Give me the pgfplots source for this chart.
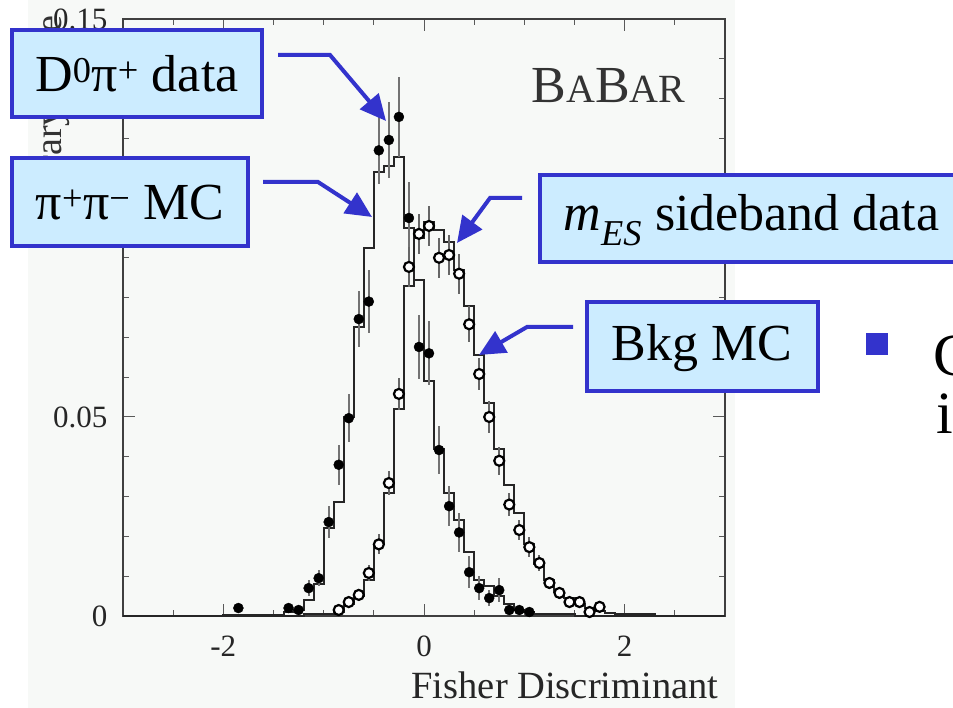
\documentclass[border=0pt]{standalone}
\usepackage{fontspec}
\setmainfont{Liberation Serif}
\usepackage{pgfplots}
\pgfplotsset{compat=1.18}
\usetikzlibrary{arrows.meta}
\definecolor{slideblue}{RGB}{51,51,204}
\definecolor{boxfill}{RGB}{204,236,255}
\definecolor{plotbg}{RGB}{247,249,247}

% signal MC (pi+pi-) histogram: left bin edge, content
\pgfplotstableread{
x y
-3.0 0
-2.0 0.0003
-1.4 0.001
-1.3 0.0015
-1.2 0.004
-1.1 0.008
-1.0 0.022
-0.9 0.0286
-0.8 0.050
-0.7 0.0726
-0.6 0.0925
-0.5 0.1116
-0.4 0.113
-0.3 0.1153
-0.2 0.0975
-0.1 0.0844
0.0 0.059
0.1 0.042
0.2 0.031
0.3 0.024
0.4 0.016
0.5 0.009
0.6 0.0075
0.7 0.005
0.8 0.003
0.9 0.0015
1.0 0.001
1.1 0.0005
1.5 0
3.0 0
}\sigmc

% background MC histogram: left bin edge, content
\pgfplotstableread{
x y
-3.0 0
-1.2 0.0005
-0.9 0.001
-0.8 0.003
-0.7 0.005
-0.6 0.009
-0.5 0.018
-0.4 0.031
-0.3 0.052
-0.2 0.083
-0.1 0.095
0.0 0.099
0.1 0.097
0.2 0.094
0.3 0.087
0.4 0.078
0.5 0.0656
0.6 0.0535
0.7 0.042
0.8 0.033
0.9 0.026
1.0 0.018
1.1 0.013
1.2 0.009
1.3 0.006
1.4 0.0045
1.5 0.003
1.6 0.002
1.7 0.0012
1.8 0.0008
1.9 0.0004
2.3 0
3.0 0
}\bkgmc

% D0 pi+ data: bin centre, content, error
\pgfplotstableread{
x y e
-1.85 0.002 0.001
-1.35 0.002 0.001
-1.25 0.0015 0.001
-1.15 0.007 0.002
-1.05 0.0095 0.002
-0.95 0.0236 0.004
-0.85 0.038 0.005
-0.75 0.0497 0.006
-0.65 0.0746 0.007
-0.55 0.079 0.008
-0.45 0.117 0.0085
-0.35 0.1196 0.0095
-0.25 0.1254 0.010
-0.15 0.100 0.009
-0.05 0.0676 0.008
0.05 0.066 0.008
0.15 0.0417 0.006
0.25 0.0276 0.005
0.35 0.021 0.005
0.45 0.011 0.004
0.55 0.007 0.003
0.65 0.0045 0.002
0.75 0.0065 0.003
0.85 0.0015 0.001
0.95 0.0015 0.001
1.05 0.001 0.001
}\dpidata

% mES sideband data: bin centre, content, error
\pgfplotstableread{
x y e
-0.85 0.0015 0.001
-0.75 0.0035 0.001
-0.65 0.0053 0.0015
-0.55 0.0108 0.002
-0.45 0.018 0.0025
-0.35 0.0334 0.003
-0.25 0.0558 0.004
-0.15 0.0877 0.005
-0.05 0.096 0.005
0.05 0.098 0.005
0.15 0.090 0.005
0.25 0.0907 0.005
0.35 0.086 0.005
0.45 0.0733 0.0045
0.55 0.0608 0.004
0.65 0.050 0.004
0.75 0.039 0.0035
0.85 0.028 0.003
0.95 0.0216 0.0025
1.05 0.0173 0.0025
1.15 0.0133 0.002
1.25 0.0083 0.0015
1.35 0.0058 0.0015
1.45 0.0035 0.001
1.55 0.0035 0.001
1.65 0.001 0.001
1.75 0.0023 0.001
}\sbdata

\begin{document}
\begin{tikzpicture}[x=1pt,y=1pt]
\useasboundingbox (0,0) rectangle (953,708);
\fill[white] (0,0) rectangle (953,708);
\fill[plotbg] (28,0) rectangle (735,708);

\begin{axis}[
  at={(123pt,92pt)}, anchor=south west,
  scale only axis, width=602pt, height=597pt,
  xmin=-3, xmax=3, ymin=0, ymax=0.15,
  axis line style={draw=black!75, line width=1.2pt},
  tick style={draw=black!65, line width=1pt},
  major tick length=12pt, minor tick length=6pt,
  xtick={-2,0,2}, xticklabels={-2,0,2},
  minor xtick={-2.5,-1.5,-1,-0.5,0.5,1,1.5,2.5},
  ytick={0,0.05,0.1,0.15}, yticklabels={0,0.05,0.1,0.15},
  minor ytick={0.01,0.02,0.03,0.04,0.06,0.07,0.08,0.09,0.11,0.12,0.13,0.14},
  scaled y ticks=false,
  ticklabel style={font=\fontsize{31}{31}\selectfont, text=black!85},
  xticklabel style={yshift=-16pt},
  yticklabel style={xshift=-12pt},
  clip=false,
]
\addplot[const plot, draw=black!85, line width=2pt] table {\bkgmc};
\addplot[const plot, draw=black!85, line width=2pt] table {\sigmc};
\addplot[only marks, mark=*, mark size=5pt, black,
  error bars/.cd, y dir=both, y explicit,
  error bar style={draw=black!55, line width=2pt}, error mark=none]
  table[y error=e] {\dpidata};
\addplot[only marks, mark=*, mark size=5pt,
  mark options={draw=black, fill=white, line width=2.2pt},
  error bars/.cd, y dir=both, y explicit,
  error bar style={draw=black!60, line width=2pt}, error mark=none]
  table[y error=e] {\sbdata};
\end{axis}

% axis titles and experiment label
\node[rotate=90, anchor=east, font=\fontsize{38}{38}\selectfont, text=black!80] at (52,696) {Arbitrary Scale};
\node[anchor=base east, font=\fontsize{38.5}{38.5}\selectfont, text=black!85] at (722,9) {Fisher Discriminant};
\node[anchor=base west, text=black!80] at (528,605)
  {\fontsize{52}{52}\selectfont B\fontsize{40}{40}\selectfont A\fontsize{52}{52}\selectfont B\fontsize{40}{40}\selectfont AR};

% callout boxes
\begin{scope}[every node/.style={font=\fontsize{52}{52}\selectfont, text=black}]
\draw[slideblue, line width=4pt, fill=boxfill] (12,591) rectangle (262,678);
\node at (137,634) {D\textsuperscript{0}π\textsuperscript{+} data};
\draw[slideblue, line width=4pt, fill=boxfill] (12,462) rectangle (248,550);
\node at (130,505) {π\textsuperscript{+}π\textsuperscript{−} MC};
\draw[slideblue, line width=4pt, fill=boxfill] (540,446) rectangle (965,533);
\node[anchor=west] at (560,488) {\textit{m}\textsubscript{\textit{ES}} sideband data};
\draw[slideblue, line width=4pt, fill=boxfill] (587,317) rectangle (818,406);
\node at (702,360) {Bkg MC};
\end{scope}

% arrows
\begin{scope}[slideblue, line width=4pt, -{Triangle[length=26pt,width=24pt]}]
\draw (278,653) -- (330,653) -- (386,587);
\draw (263,526) -- (318,526) -- (372,491);
\draw (522,510) -- (490,510) -- (457,465);
\draw (573,381) -- (527,381) -- (479,353);
\end{scope}

% bullet line on the slide
\fill[slideblue] (866,353) rectangle (888,375);
\node[anchor=base west, font=\fontsize{60}{60}\selectfont] at (930,332) {C};
\node[anchor=base west, font=\fontsize{60}{60}\selectfont] at (933,274) {i};
\end{tikzpicture}
\end{document}
